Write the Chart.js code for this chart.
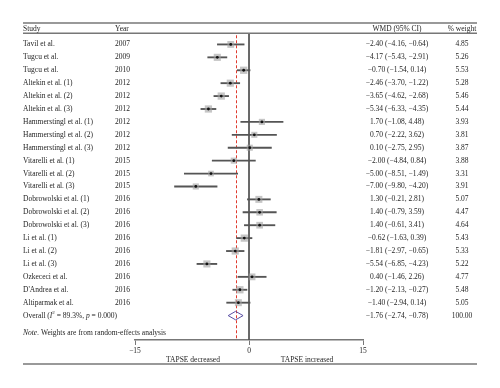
<!DOCTYPE html>
<html>
<head>
<meta charset="utf-8">
<script src="https://cdn.jsdelivr.net/npm/chart.js@4.4.0/dist/chart.umd.min.js"></script>
<style>
  body { margin: 0; background: #fff; }
  canvas { display: block; }
</style>
</head>
<body>
<canvas id="forest" width="500" height="388"></canvas>
<script>
  // datos del forest plot
  const studies = [
    'Tavil et al.', 'Tugcu et al.', 'Tugcu et al.', 'Altekin et al. (1)', 'Altekin et al. (2)',
    'Altekin et al. (3)', 'Hammerstingl et al. (1)', 'Hammerstingl et al. (2)', 'Hammerstingl et al. (3)',
    'Vitarelli et al. (1)', 'Vitarelli et al. (2)', 'Vitarelli et al. (3)', 'Dobrowolski et al. (1)',
    'Dobrowolski et al. (2)', 'Dobrowolski et al. (3)', 'Li et al. (1)', 'Li et al. (2)', 'Li et al. (3)',
    'Ozkececi et al.', "D'Andrea et al.", 'Altiparmak et al.'
  ];
  const years = [2007, 2009, 2010, 2012, 2012, 2012, 2012, 2012, 2012, 2015, 2015, 2015,
    2016, 2016, 2016, 2016, 2016, 2016, 2016, 2016, 2016];
  const wmd = [-2.40, -4.17, -0.70, -2.46, -3.65, -5.34, 1.70, 0.70, 0.10, -2.00, -5.00, -7.00,
    1.30, 1.40, 1.40, -0.62, -1.81, -5.54, 0.40, -1.20, -1.40];
  const ciLow = [-4.16, -5.43, -1.54, -3.70, -4.62, -6.33, -1.08, -2.22, -2.75, -4.84, -8.51, -9.80,
    -0.21, -0.79, -0.61, -1.63, -2.97, -6.85, -1.46, -2.13, -2.94];
  const ciHigh = [-0.64, -2.91, 0.14, -1.22, -2.68, -4.35, 4.48, 3.62, 2.95, 0.84, -1.49, -4.20,
    2.81, 3.59, 3.41, 0.39, -0.65, -4.23, 2.26, -0.27, 0.14];
  const weights = [4.85, 5.26, 5.53, 5.28, 5.46, 5.44, 3.93, 3.81, 3.87, 3.88, 3.31, 3.91,
    5.07, 4.47, 4.64, 5.43, 5.33, 5.22, 4.77, 5.48, 5.05];

  const overallWmd = -1.76;
  const overallLow = -2.74;
  const overallHigh = -0.78;
  const overallWeight = 100.00;
  const iSquared = '89.3%';
  const pValue = '0.000';

  const xTicks = [-15, 0, 15];
  const axisLabels = ['TAPSE decreased', 'TAPSE increased'];

  // filas (en unidades del eje y)
  const TOP = -1.66, HEADER = -1.16, HEADER_RULE = -0.86, NOTE = 22.35, AXIS = 22.89;
  const overallRow = studies.length;
  const rows = studies.map((s, i) => i);

  const FONT = '"Liberation Serif", "Times New Roman", serif';
  const fmt = v => (v < 0 ? '\u2212' : '') + Math.abs(v).toFixed(2);

  const dh = 0.33; // medio alto del diamante
  const diamond = [
    { x: overallLow, y: overallRow }, { x: overallWmd, y: overallRow - dh },
    { x: overallHigh, y: overallRow }, { x: overallWmd, y: overallRow + dh },
    { x: overallLow, y: overallRow }
  ];

  // linea roja discontinua del efecto global, debajo de los datos
  const refLine = {
    id: 'refLine',
    beforeDatasetsDraw(chart) {
      const { ctx } = chart;
      const px = Math.round(chart.scales.x.getPixelForValue(overallWmd)) + 0.5;
      const y = chart.scales.y;
      ctx.save();
      ctx.strokeStyle = '#e03a2e';
      ctx.lineWidth = 1;
      ctx.setLineDash([3, 2]);
      ctx.beginPath();
      ctx.moveTo(px, y.getPixelForValue(HEADER_RULE + 0.15));
      ctx.lineTo(px, y.getPixelForValue(AXIS));
      ctx.stroke();
      ctx.restore();
    }
  };

  const textPlugin = {
    id: 'forestText',
    afterDraw(chart) {
      const { ctx } = chart;
      const y = chart.scales.y;
      const xs = chart.scales.x;
      const L = 23, R = 477;
      ctx.save();

      // lineas horizontales
      ctx.strokeStyle = '#777';
      ctx.lineWidth = 1.5;
      [y.getPixelForValue(TOP), y.getPixelForValue(HEADER_RULE), xs.bottom + 6].forEach(py => {
        ctx.beginPath(); ctx.moveTo(L, py); ctx.lineTo(R, py); ctx.stroke();
      });

      ctx.fillStyle = '#1e1e1e';
      ctx.textBaseline = 'middle';
      ctx.font = '7.5px ' + FONT;

      const hy = y.getPixelForValue(HEADER);
      ctx.textAlign = 'left';
      ctx.fillText('Study', L, hy);
      ctx.fillText('Year', 115, hy);
      ctx.textAlign = 'center';
      ctx.fillText('WMD (95% CI)', 397, hy);
      ctx.fillText('% weight', 462, hy);

      rows.forEach(i => {
        const py = y.getPixelForValue(i);
        ctx.textAlign = 'left';
        ctx.fillText(studies[i], L, py);
        ctx.fillText(String(years[i]), 115, py);
        ctx.textAlign = 'center';
        ctx.fillText(fmt(wmd[i]) + ' (' + fmt(ciLow[i]) + ', ' + fmt(ciHigh[i]) + ')', 397, py);
        ctx.fillText(weights[i].toFixed(2), 462, py);
      });

      // fila overall con cursivas y superindice
      const oy = y.getPixelForValue(overallRow);
      ctx.textAlign = 'left';
      let cx = L;
      const part = (t, f, dy) => {
        ctx.font = f;
        ctx.fillText(t, cx, oy + (dy || 0));
        cx += ctx.measureText(t).width;
      };
      const reg = '7.5px ' + FONT, ital = 'italic 7.5px ' + FONT;
      part('Overall (', reg);
      part('I', ital);
      part('2', '5px ' + FONT, -3);
      part(' = ' + iSquared + ', ', reg);
      part('p', ital);
      part(' = ' + pValue + ')', reg);
      ctx.font = reg;
      ctx.textAlign = 'center';
      ctx.fillText(fmt(overallWmd) + ' (' + fmt(overallLow) + ', ' + fmt(overallHigh) + ')', 397, oy);
      ctx.fillText(overallWeight.toFixed(2), 462, oy);

      // nota
      const ny = y.getPixelForValue(NOTE);
      ctx.textAlign = 'left';
      cx = L;
      const np = (t, f) => { ctx.font = f; ctx.fillText(t, cx, ny); cx += ctx.measureText(t).width; };
      np('Note.', ital);
      np(' Weights are from random-effects analysis', reg);

      // etiquetas bajo el eje
      ctx.font = reg;
      ctx.textAlign = 'center';
      ctx.fillText(axisLabels[0], 193, xs.bottom + 2);
      ctx.fillText(axisLabels[1], 307, xs.bottom + 2);
      ctx.restore();
    }
  };

  const ctx = document.getElementById('forest').getContext('2d');

  const chart = new Chart(ctx, {
    type: 'scatter',
    data: {
      datasets: [
        {
          // cuadros de peso
          type: 'scatter',
          data: rows.map(i => ({ x: wmd[i], y: i })),
          pointStyle: 'rect',
          pointRadius: weights.map(w => 2.2 * Math.sqrt(w)),
          backgroundColor: 'rgba(160,160,160,0.6)',
          borderWidth: 0,
          order: 1
        },
        {
          // punto central
          type: 'scatter',
          data: rows.map(i => ({ x: wmd[i], y: i })),
          pointRadius: 1.4,
          backgroundColor: '#111',
          borderWidth: 0,
          order: 0
        },
        {
          // intervalos de confianza
          type: 'bar',
          indexAxis: 'y',
          data: rows.map(i => ({ x: [ciLow[i], ciHigh[i]], y: i })),
          backgroundColor: '#555',
          borderWidth: 0,
          barThickness: 1.2,
          order: 2
        },
        {
          // linea en cero
          type: 'line',
          data: [{ x: 0, y: HEADER_RULE }, { x: 0, y: AXIS }],
          borderColor: '#555',
          borderWidth: 1,
          pointRadius: 0,
          order: 3
        },
        {
          // diamante
          type: 'line',
          data: diamond,
          borderColor: '#5a4fa3',
          borderWidth: 1,
          backgroundColor: '#fff',
          fill: false,
          pointRadius: 0,
          tension: 0,
          order: 0
        }
      ]
    },
    options: {
      responsive: false,
      animation: false,
      layout: { padding: { left: 135, right: 137, top: 23, bottom: 30 } },
      plugins: { legend: { display: false }, tooltip: { enabled: false } },
      scales: {
        x: {
          type: 'linear',
          min: -15,
          max: 15,
          afterBuildTicks: s => { s.ticks = xTicks.map(v => ({ value: v })); },
          ticks: {
            color: '#1e1e1e',
            padding: 2,
            font: { family: FONT, size: 7.5 },
            callback: v => (v < 0 ? '\u2212' : '') + Math.abs(v)
          },
          grid: { drawOnChartArea: false, drawTicks: true, tickLength: 5, color: '#777' },
          border: { color: '#777', width: 1.5 }
        },
        y: {
          type: 'linear',
          display: false,
          reverse: true,
          offset: false,
          min: TOP,
          max: AXIS
        }
      }
    },
    plugins: [refLine, textPlugin]
  });
</script>
</body>
</html>
